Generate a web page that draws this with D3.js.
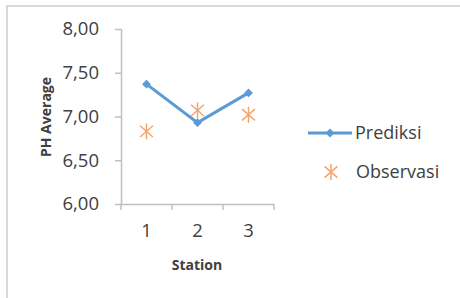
<!DOCTYPE html>
<html>
<head>
<meta charset="utf-8">
<script src="https://cdn.jsdelivr.net/npm/d3@7"></script>
<style>
  body { margin: 0; background: #fff; }
  text { font-family: "Open Sans", sans-serif; fill: #404040; }
</style>
</head>
<body>
<div id="chart"></div>
<script>
var stations = [1, 2, 3]
var prediksi = [7.37, 6.93, 7.27]
var observasi = [6.83, 7.07, 7.02]
var yTicks = [6, 6.5, 7, 7.5, 8]

var fullWidth = 460
var fullHeight = 298

var x = d3.scaleBand().domain(stations).range([121, 274])
var y = d3.scaleLinear().domain([6, 8]).range([204, 29])
var fmt = function(d) { return d.toFixed(2).replace('.', ',') }

var svg = d3.select('#chart')
  .append('svg')
    .attr('width', fullWidth)
    .attr('height', fullHeight)

// chart frame
svg.append('rect')
  .attr('x', 7).attr('y', 6)
  .attr('width', 470).attr('height', 310)
  .attr('fill', 'none')
  .attr('stroke', '#d9d9d9')
  .attr('stroke-width', 2)

var yAxis = svg.append('g')
  .attr('transform', 'translate(121,0)')
  .call(d3.axisLeft(y).tickValues(yTicks).tickSize(6).tickPadding(16).tickFormat(fmt))

var xAxis = svg.append('g')
  .attr('transform', 'translate(0,204)')
  .call(d3.axisBottom(x).tickSize(0).tickPadding(20))

// x ticks sit between categories
xAxis.selectAll('.edge')
  .data([121].concat(stations.map(function(d) { return x(d) + x.bandwidth() })))
  .enter().append('line')
    .attr('class', 'edge')
    .attr('x1', function(d) { return d })
    .attr('x2', function(d) { return d })
    .attr('y1', 0).attr('y2', 6)

svg.selectAll('.domain, .tick line, .edge')
  .attr('stroke', '#bfbfbf')
  .attr('stroke-width', 1.5)
xAxis.select('.domain').attr('d', 'M121,0.5H274')
yAxis.select('.domain').attr('d', 'M0.5,29V204')
svg.selectAll('.tick text')
  .style('font-family', '"Open Sans", sans-serif')
  .style('font-size', '18.5px')
  .attr('fill', '#404040')

svg.append('text')
  .attr('x', 197).attr('y', 270)
  .attr('text-anchor', 'middle')
  .style('font-size', '14px').style('font-weight', 'bold')
  .attr('fill', '#262626')
  .text('Station')

svg.append('text')
  .attr('transform', 'translate(51,117) rotate(-90)')
  .attr('text-anchor', 'middle')
  .style('font-size', '14px').style('font-weight', 'bold')
  .attr('fill', '#262626')
  .text('PH Average')

var cx = function(d, i) { return x(stations[i]) + x.bandwidth() / 2 }
var blue = '#5b9bd5'
var orange = '#f4a46a'

svg.append('path')
  .datum(prediksi)
  .attr('fill', 'none')
  .attr('stroke', blue)
  .attr('stroke-width', 3)
  .attr('d', d3.line().x(cx).y(function(d) { return y(d) }))

svg.selectAll('.diamond')
  .data(prediksi)
  .enter().append('path')
    .attr('class', 'diamond')
    .attr('d', d3.symbol(d3.symbolDiamond2, 50))
    .attr('transform', function(d, i) { return 'translate(' + cx(d, i) + ',' + y(d) + ')' })
    .attr('fill', blue)

function star(g, r) {
  g.append('line').attr('x1', 0).attr('x2', 0).attr('y1', -r).attr('y2', r)
  g.append('line').attr('x1', -r * 0.8).attr('x2', r * 0.8).attr('y1', -r * 0.7).attr('y2', r * 0.7)
  g.append('line').attr('x1', -r * 0.8).attr('x2', r * 0.8).attr('y1', r * 0.7).attr('y2', -r * 0.7)
  g.attr('stroke', orange).attr('stroke-width', 1.5)
}

svg.selectAll('.star')
  .data(observasi)
  .enter().append('g')
    .attr('class', 'star')
    .attr('transform', function(d, i) { return 'translate(' + cx(d, i) + ',' + y(d) + ')' })
    .each(function() { star(d3.select(this), 8) })

// legend
var legend = svg.append('g')
legend.append('line')
  .attr('x1', 308).attr('x2', 352).attr('y1', 133).attr('y2', 133)
  .attr('stroke', blue).attr('stroke-width', 3)
legend.append('path')
  .attr('d', d3.symbol(d3.symbolDiamond2, 50))
  .attr('transform', 'translate(330,133)')
  .attr('fill', blue)
legend.append('text')
  .attr('x', 355).attr('y', 139)
  .style('font-size', '18px')
  .text('Prediksi')
star(legend.append('g').attr('transform', 'translate(331,172)'), 8)
legend.append('text')
  .attr('x', 356).attr('y', 178)
  .style('font-size', '18px')
  .text('Observasi')
</script>
</body>
</html>
